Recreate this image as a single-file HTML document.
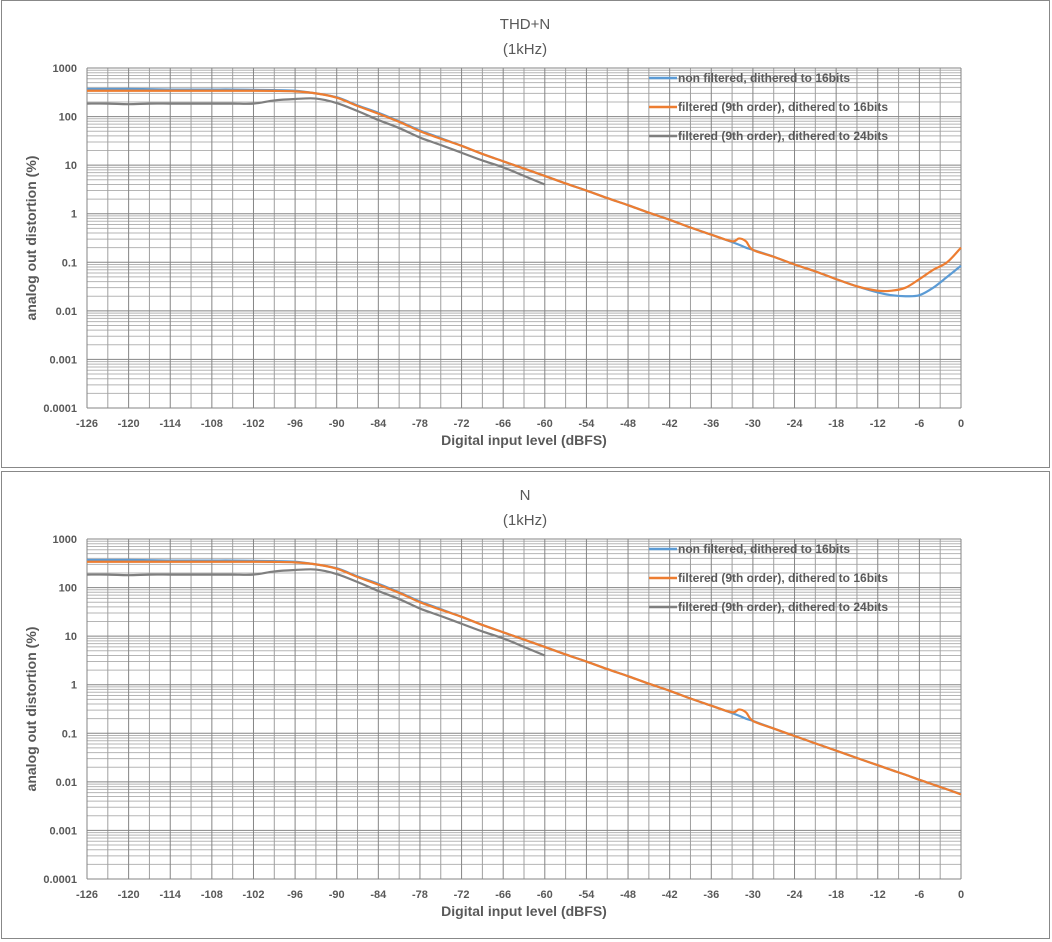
<!DOCTYPE html>
<html><head><meta charset="utf-8"><style>
body{margin:0;background:#fff;width:1052px;height:942px;overflow:hidden;font-family:"Liberation Sans",sans-serif}
svg{position:absolute;left:0;top:0}
</style></head><body>
<svg id="svg" width="1052" height="942"></svg>
<script>
const xValues=[-126,-123,-120,-117,-114,-111,-108,-105,-102,-99,-96,-93,-90,-87,-84,-81,-78,-75,-72,-69,-66,-63,-60,-57,-54,-51,-48,-45,-42,-39,-36,-33,-32,-31,-30,-27,-24,-21,-18,-15,-12,-10,-8,-6,-4,-2,0];
const thdBlue=[370,370,370,365,360,360,360,360,355,350,340,300,250,170,120,80,52,36,25,17,12,8.5,6,4.2,3,2.1,1.5,1.05,0.75,0.52,0.37,0.26,0.23,0.2,0.18,0.13,0.09,0.065,0.045,0.032,0.024,0.021,0.02,0.021,0.03,0.05,0.085];
const thdOrange=[340,340,340,340,340,340,340,340,340,338,330,300,245,165,115,78,50,35,25,17,12,8.5,6,4.2,3,2.1,1.5,1.05,0.75,0.52,0.37,0.27,0.31,0.27,0.18,0.13,0.09,0.065,0.045,0.032,0.026,0.026,0.03,0.045,0.07,0.1,0.2];
const grayX=[-126,-123,-120,-117,-114,-111,-108,-105,-102,-99,-96,-93,-90,-87,-84,-81,-78,-75,-72,-69,-66,-63,-60];
const grayY=[185,185,180,185,185,185,185,185,185,215,230,235,190,130,85,58,37,26,18,12.5,9,6,4];
const nBlue=[370,370,370,365,360,360,360,360,355,350,340,300,250,170,120,80,52,36,25,17,12,8.5,6,4.2,3,2.1,1.5,1.05,0.75,0.52,0.37,0.26,0.23,0.2,0.18,0.125,0.088,0.062,0.044,0.031,0.022,0.0175,0.014,0.011,0.0088,0.007,0.0056];
const nOrange=[340,340,340,340,340,340,340,340,340,338,330,300,245,165,115,78,50,35,25,17,12,8.5,6,4.2,3,2.1,1.5,1.05,0.75,0.52,0.37,0.27,0.31,0.27,0.18,0.125,0.088,0.062,0.044,0.031,0.022,0.0175,0.014,0.011,0.0088,0.007,0.0055];
const xTicks=[-126,-120,-114,-108,-102,-96,-90,-84,-78,-72,-66,-60,-54,-48,-42,-36,-30,-24,-18,-12,-6,0];
const yTicks=["0.0001","0.001","0.01","0.1","1","10","100","1000"];
const legendLabels=["non filtered, dithered to 16bits","filtered (9th order), dithered to 16bits","filtered (9th order), dithered to 24bits"];
const NS="http://www.w3.org/2000/svg";
const svg=document.getElementById('svg');
function mk(t,a,p){const e=document.createElementNS(NS,t);for(const k in a)e.setAttribute(k,a[k]);(p||svg).appendChild(e);return e;}
function path(xs,ys,sx,sy){const p=xs.map((x,i)=>[sx(x),sy(ys[i])]);let d='M'+p[0][0]+','+p[0][1];
 for(let i=0;i<p.length-1;i++){const p0=p[i-1]||p[i],p1=p[i],p2=p[i+1],p3=p[i+2]||p2;
 d+=' C'+(p1[0]+(p2[0]-p0[0])/6)+','+(p1[1]+(p2[1]-p0[1])/6)+' '+(p2[0]-(p3[0]-p1[0])/6)+','+(p2[1]-(p3[1]-p1[1])/6)+' '+p2[0]+','+p2[1];}return d;}
function chart(top,title,name,blue,orange){
 const g=mk('g',{});
 
 
 const frame=mk('rect',{x:1.5,y:top-0.5,width:1048,height:467,fill:'#fff',stroke:'#888','stroke-width':1},g);
 
 
 const L=87,R=961,T=top+67,B=top+407;
 const sx=v=>L+(v+126)/126*(R-L);
 const sy=v=>B-(Math.log10(v)+4)/7*(B-T);
 for(let d=-4;d<3;d++)for(let m=2;m<10;m++){const y=sy(m*Math.pow(10,d));mk('line',{x1:L,x2:R,y1:y,y2:y,stroke:'#b5b5b5','stroke-width':1},g);}
 for(let v=-126;v<=0;v+=3){const x=sx(v);mk('line',{x1:x,x2:x,y1:T,y2:B,stroke:v%6===0?'#858585':'#a0a0a0','stroke-width':1},g);}
 yTicks.forEach(t=>{const y=sy(+t);mk('line',{x1:L,x2:R,y1:y,y2:y,stroke:'#858585','stroke-width':1},g);
  const tx=mk('text',{x:L-10,y:y+4,'text-anchor':'end','font-size':11,'font-weight':'bold',fill:'#595959'},g);tx.textContent=t;
  
  });
 xTicks.forEach(t=>{const tx=mk('text',{x:sx(t),y:B+19,'text-anchor':'middle','font-size':11,'font-weight':'bold',fill:'#595959'},g);tx.textContent=t;
  
  });
 const t1=mk('text',{x:525,y:top+28,'text-anchor':'middle','font-size':15,fill:'#595959'},g);t1.textContent=title;
 
 
 const t2=mk('text',{x:525,y:top+53,'text-anchor':'middle','font-size':15,fill:'#595959'},g);t2.textContent='(1kHz)';
 
 
 const xa=mk('text',{x:524,y:B+37,'text-anchor':'middle','font-size':14,'font-weight':'bold',fill:'#595959'},g);xa.textContent='Digital input level (dBFS)';
 
 
 const ya=mk('text',{x:0,y:0,transform:'translate(36,'+((T+B)/2)+') rotate(-90)','text-anchor':'middle','font-size':14,'font-weight':'bold',fill:'#595959'},g);ya.textContent='analog out distortion (%)';
 
 
 const s3=mk('path',{d:path(grayX,grayY,sx,sy),fill:'none',stroke:'#7f7f7f','stroke-width':2.2},g);
 
 
 const s1=mk('path',{d:path(xValues,blue,sx,sy),fill:'none',stroke:'#5b9bd5','stroke-width':2.2},g);
 
 
 const s2=mk('path',{d:path(xValues,orange,sx,sy),fill:'none',stroke:'#ed7d31','stroke-width':2.2},g);
 
 
 const cols=['#5b9bd5','#ed7d31','#7f7f7f'];
 legendLabels.forEach((lb,i)=>{const y=top+77+i*29;
  const lg=mk('g',{},g);
  
  
  mk('line',{x1:649,x2:677,y1:y,y2:y,stroke:cols[i],'stroke-width':2.5},lg);
  const tx=mk('text',{x:678,y:y+4,'font-size':12,'font-weight':'bold',fill:'#595959'},lg);tx.textContent=lb;});
}
chart(1,'THD+N','thd-n-chart',thdBlue,thdOrange);
chart(472,'N','noise-chart',nBlue,nOrange);
</script>
</body></html>
